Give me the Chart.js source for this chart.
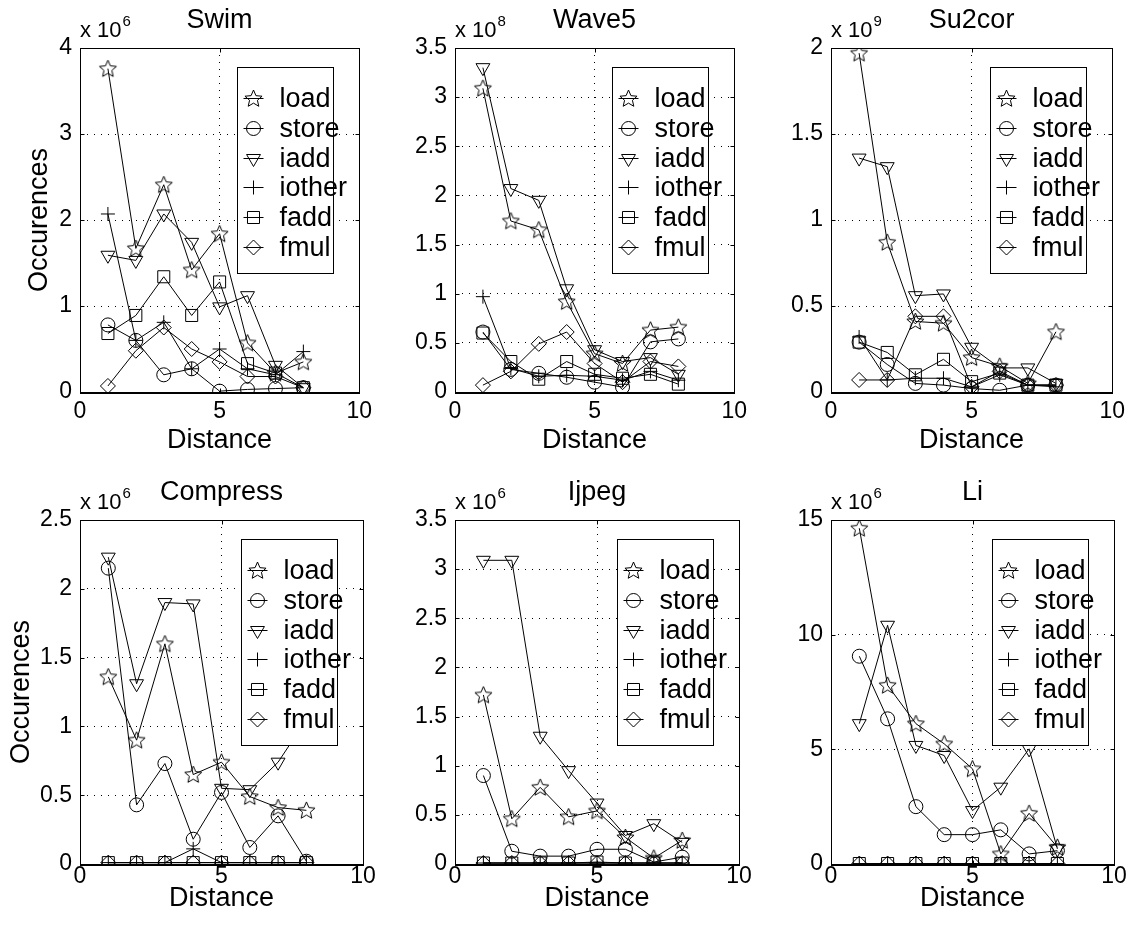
<!DOCTYPE html>
<html>
<head>
<meta charset="utf-8">
<script src="https://cdn.jsdelivr.net/npm/chart.js@4.4.0/dist/chart.umd.min.js"></script>
<style>
  html, body { margin: 0; padding: 0; background: #fff; }
  #page { position: relative; width: 1133px; height: 928px; overflow: hidden; background: #fff; }
  #page canvas { position: absolute; }
</style>
</head>
<body>
<div id="page"></div>
<script>
// distance between dependent instructions (x axis)
const distances = [1, 2, 3, 4, 5, 6, 7, 8];
const seriesNames = ['load', 'store', 'iadd', 'iother', 'fadd', 'fmul'];
const benchmarks = ['Swim', 'Wave5', 'Su2cor', 'Compress', 'Ijpeg', 'Li'];
const exponents = [6, 8, 9, 6, 6, 6];
const yMax = [4, 3.5, 2, 2.5, 3.5, 15];
const yStep = [1, 0.5, 0.5, 0.5, 0.5, 5];
const xTicks = { min: 0, max: 10, step: 5 };

// occurrences, in units of 10^exponent; rows follow seriesNames
const swim = [
  [3.76, 1.67, 2.41, 1.42, 1.84, 0.57, 0.22, 0.35],
  [0.78, 0.60, 0.20, 0.27, 0.01, 0.03, 0.04, 0.05],
  [1.59, 1.53, 2.07, 1.74, 0.99, 1.12, 0.31, 0.05],
  [2.07, 0.60, 0.81, 0.27, 0.50, 0.27, 0.20, 0.47],
  [0.68, 0.89, 1.34, 0.89, 1.28, 0.33, 0.22, 0.05],
  [0.07, 0.48, 0.75, 0.50, 0.35, 0.18, 0.18, 0.05]
];
const wave5 = [
  [3.09, 1.74, 1.65, 0.92, 0.39, 0.29, 0.63, 0.66],
  [0.61, 0.23, 0.19, 0.15, 0.10, 0.05, 0.51, 0.54],
  [3.30, 2.07, 1.95, 1.05, 0.43, 0.31, 0.35, 0.18],
  [0.97, 0.24, 0.16, 0.17, 0.16, 0.12, 0.21, 0.12],
  [0.60, 0.31, 0.13, 0.31, 0.18, 0.14, 0.18, 0.08],
  [0.07, 0.21, 0.49, 0.61, 0.29, 0.10, 0.31, 0.26]
];
const su2cor = [
  [1.97, 0.87, 0.41, 0.40, 0.20, 0.15, 0.05, 0.35],
  [0.29, 0.16, 0.05, 0.04, 0.02, 0.01, 0.04, 0.04],
  [1.36, 1.31, 0.56, 0.57, 0.26, 0.14, 0.14, 0.05],
  [0.32, 0.07, 0.08, 0.08, 0.03, 0.10, 0.04, 0.03],
  [0.29, 0.23, 0.10, 0.19, 0.06, 0.11, 0.04, 0.04],
  [0.07, 0.07, 0.44, 0.44, 0.03, 0.12, 0.04, 0.04]
];
const compress = [
  [1.36, 0.90, 1.60, 0.65, 0.74, 0.49, 0.41, 0.39],
  [2.15, 0.43, 0.73, 0.18, 0.52, 0.12, 0.35, 0.02],
  [2.23, 1.31, 1.90, 1.89, 0.55, 0.54, 0.74, 1.05],
  [0.01, 0.01, 0.01, 0.11, 0.01, 0.01, 0.01, 0.01],
  [0.01, 0.01, 0.01, 0.01, 0.01, 0.01, 0.01, 0.01],
  [0.01, 0.01, 0.01, 0.01, 0.01, 0.01, 0.01, 0.01]
];
const ijpeg = [
  [1.72, 0.46, 0.78, 0.48, 0.54, 0.27, 0.06, 0.24],
  [0.90, 0.13, 0.08, 0.08, 0.15, 0.15, 0.02, 0.07],
  [3.09, 3.09, 1.30, 0.95, 0.62, 0.29, 0.41, 0.22],
  [0.01, 0.01, 0.01, 0.01, 0.01, 0.01, 0.01, 0.01],
  [0.01, 0.01, 0.01, 0.01, 0.02, 0.01, 0.01, 0.01],
  [0.01, 0.01, 0.01, 0.01, 0.01, 0.01, 0.01, 0.01]
];
const li = [
  [14.64, 7.79, 6.12, 5.24, 4.15, 0.44, 2.21, 0.73],
  [9.06, 6.33, 2.50, 1.28, 1.28, 1.49, 0.44, 0.58],
  [6.12, 10.41, 5.17, 4.73, 2.33, 3.35, 5.02, 0.66],
  [0.02, 0.02, 0.02, 0.02, 0.02, 0.02, 0.02, 0.02],
  [0.02, 0.02, 0.02, 0.02, 0.02, 0.02, 0.02, 0.02],
  [0.02, 0.02, 0.02, 0.02, 0.02, 0.02, 0.02, 0.02]
];
const tables = [swim, wave5, su2cor, compress, ijpeg, li];

const FONT = '"Liberation Sans", Arial, Helvetica, sans-serif';
Chart.defaults.font.family = FONT;
Chart.defaults.color = '#000';

// five-pointed outline star, used as a point style
function makeStar(r) {
  const size = Math.ceil(2 * r + 3);
  const c = document.createElement('canvas');
  c.width = size; c.height = size;
  const g = c.getContext('2d');
  const cx = size / 2, cy = size / 2 + 0.5;
  g.beginPath();
  for (let i = 0; i < 10; i++) {
    const rad = i % 2 === 0 ? r : r * 0.46;
    const ang = -Math.PI / 2 + i * Math.PI / 5;
    const px = cx + rad * Math.cos(ang), py = cy + rad * Math.sin(ang);
    if (i === 0) g.moveTo(px, py); else g.lineTo(px, py);
  }
  g.closePath();
  g.strokeStyle = '#000';
  g.lineWidth = 1;
  g.stroke();
  return c;
}

const markerStyles = [
  { pointStyle: makeStar(9), pointRadius: 8, pointRotation: 0 },
  { pointStyle: 'circle', pointRadius: 7, pointRotation: 0 },
  { pointStyle: 'triangle', pointRadius: 8, pointRotation: 180 },
  { pointStyle: 'cross', pointRadius: 7, pointRotation: 0 },
  { pointStyle: 'rect', pointRadius: 8.5, pointRotation: 0 },
  { pointStyle: 'rectRot', pointRadius: 7.5, pointRotation: 0 }
];

// canvas placement per panel: left, top, width, height
const boxes = [
  [0, 0, 380, 460], [375, 0, 380, 460], [751, 0, 382, 460],
  [0, 460, 380, 468], [375, 460, 380, 468], [751, 460, 382, 468]
];
const padTop = [48, 60];
const padRight = [17, 16, 19];
const xAxisHeight = [68, 64];
const xTickPad = [8, 1];
const xTitlePad = [3, 13];
const yTitlePad = [23, 5];

// axes box, inward ticks, title, exponent label and the boxed legend
const frame = {
  id: 'frame',
  afterDraw(chart, args, opts) {
    const { ctx, chartArea: a, scales } = chart;
    const L = Math.round(a.left) + 0.5, R = Math.round(a.right) + 0.5;
    const T = Math.round(a.top) + 0.5, B = Math.round(a.bottom) + 0.5;
    ctx.save();
    ctx.strokeStyle = '#000';
    ctx.lineWidth = 1;
    ctx.setLineDash([]);
    ctx.strokeRect(L, T, R - L, B - T);
    ctx.beginPath();
    scales.x.ticks.forEach(t => {
      const px = Math.round(scales.x.getPixelForValue(t.value)) + 0.5;
      ctx.moveTo(px, B); ctx.lineTo(px, B - 4);
      ctx.moveTo(px, T); ctx.lineTo(px, T + 4);
    });
    scales.y.ticks.forEach(t => {
      const py = Math.round(scales.y.getPixelForValue(t.value)) + 0.5;
      ctx.moveTo(L, py); ctx.lineTo(L + 4, py);
      ctx.moveTo(R, py); ctx.lineTo(R - 4, py);
    });
    ctx.stroke();
    // the x axis line reads heavier than the rest of the box
    ctx.lineWidth = 2;
    ctx.beginPath();
    ctx.moveTo(L - 0.5, B + 0.5); ctx.lineTo(R + 0.5, B + 0.5);
    ctx.stroke();
    ctx.lineWidth = 1;

    ctx.fillStyle = '#000';
    ctx.textBaseline = 'alphabetic';
    ctx.textAlign = 'center';
    ctx.font = '27px ' + FONT;
    ctx.fillText(opts.title, (a.left + a.right) / 2, a.top - 20);

    ctx.textAlign = 'left';
    ctx.font = '22px ' + FONT;
    const base = 'x 10';
    ctx.fillText(base, a.left, a.top - 11);
    const bw = ctx.measureText(base).width;
    ctx.font = '15px ' + FONT;
    ctx.fillText(String(opts.exponent), a.left + bw + 1, a.top - 22);

    // legend box
    const lw = 96, lh = 206;
    const lx = Math.round(a.right - 26 - lw) + 0.5;
    const ly = Math.round(a.top + 19) + 0.5;
    ctx.fillStyle = '#fff';
    ctx.fillRect(lx, ly, lw, lh);
    ctx.strokeRect(lx, ly, lw, lh);
    ctx.font = '27px ' + FONT;
    ctx.textBaseline = 'middle';
    chart.data.datasets.forEach((ds, i) => {
      const yy = Math.round(ly + 30.7 + i * 29.7) + 0.5;
      ctx.strokeStyle = '#000';
      ctx.fillStyle = 'rgba(0,0,0,0)';
      ctx.lineWidth = 1;
      ctx.beginPath();
      ctx.moveTo(lx + 6, yy); ctx.lineTo(lx + 26, yy);
      ctx.stroke();
      Chart.helpers.drawPoint(ctx, {
        pointStyle: ds.pointStyle, radius: ds.pointRadius,
        rotation: ds.pointRotation, borderWidth: 1
      }, lx + 16, yy);
      ctx.fillStyle = '#000';
      ctx.fillText(ds.label, lx + 42, yy + 1);
    });
    ctx.restore();
  }
};

const page = document.getElementById('page');

benchmarks.forEach((name, k) => {
  const [left, top, w, h] = boxes[k];
  const row = k < 3 ? 0 : 1, col = k % 3;
  const canvas = document.createElement('canvas');
  canvas.width = w; canvas.height = h;
  canvas.style.left = left + 'px';
  canvas.style.top = top + 'px';
  canvas.style.width = w + 'px';
  canvas.style.height = h + 'px';
  page.appendChild(canvas);

  const datasets = seriesNames.map((label, s) => Object.assign({
    label,
    data: distances.map((d, i) => ({ x: d, y: tables[k][s][i] })),
    borderColor: '#000',
    borderWidth: 1,
    pointBorderColor: '#000',
    pointBackgroundColor: 'rgba(0,0,0,0)',
    pointBorderWidth: 1,
    fill: false,
    tension: 0
  }, markerStyles[s]));

  new Chart(canvas, {
    type: 'line',
    data: { datasets },
    plugins: [frame],
    options: {
      responsive: false,
      animation: false,
      events: [],
      layout: { padding: { top: padTop[row], right: padRight[col], left: 0, bottom: 0 } },
      plugins: {
        legend: { display: false },
        tooltip: { enabled: false },
        frame: { title: name, exponent: exponents[k] }
      },
      scales: {
        x: {
          type: 'linear',
          min: xTicks.min, max: xTicks.max,
          ticks: { stepSize: xTicks.step, padding: xTickPad[row], maxRotation: 0,
                   font: { size: 23, lineHeight: 1 }, color: '#000' },
          grid: { color: '#000', lineWidth: 1, drawTicks: false },
          border: { display: false, dash: [1, 6] },
          title: { display: true, text: 'Distance', color: '#000',
                   font: { size: 27 }, padding: { top: 0, bottom: xTitlePad[row] } },
          afterFit: s => { s.height = xAxisHeight[row]; }
        },
        y: {
          type: 'linear',
          min: 0, max: yMax[k],
          ticks: { stepSize: yStep[k], padding: 8, font: { size: 23, lineHeight: 1 }, color: '#000',
                   callback: v => String(+v.toFixed(2)) },
          grid: { color: '#000', lineWidth: 1, drawTicks: false },
          border: { display: false, dash: [1, 6] },
          title: { display: col === 0, text: 'Occurences', color: '#000',
                   font: { size: 27 }, padding: { top: yTitlePad[row], bottom: 0 } },
          afterFit: s => { s.width = 80; }
        }
      }
    }
  });
});
</script>
</body>
</html>
